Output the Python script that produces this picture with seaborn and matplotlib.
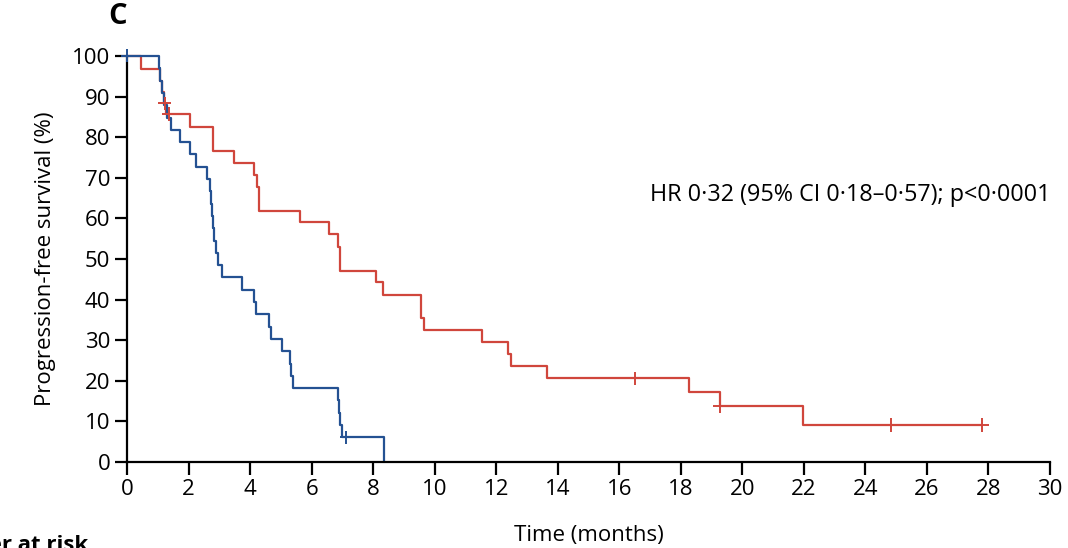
import pandas as pd
import matplotlib.pyplot as plt
import seaborn as sns

# Kaplan-Meier steps (time in months, survival in %)
blue_time = [0, 1.05, 1.08, 1.12, 1.2, 1.3, 1.43, 1.72, 2.03, 2.24, 2.59, 2.68, 2.72, 2.76,
             2.8, 2.84, 2.88, 2.97, 3.1, 3.73, 4.14, 4.2, 4.6, 4.68, 5.05, 5.3, 5.33, 5.38,
             6.85, 6.88, 6.92, 7.0, 8.35]
blue_surv = [100, 97.0, 93.9, 90.9, 87.9, 84.8, 81.8, 78.8, 75.8, 72.7, 69.7, 66.7, 63.6, 60.6,
             57.6, 54.5, 51.5, 48.5, 45.5, 42.4, 39.4, 36.4, 33.3, 30.3, 27.3, 24.2, 21.2, 18.2,
             15.2, 12.1, 9.1, 6.1, 0]
blue_cens_time = [0, 7.12]
blue_cens_surv = [100, 6.1]

red_time = [0, 0.46, 1.07, 1.12, 1.2, 1.27, 2.03, 2.78, 3.46, 4.14, 4.21, 4.3, 5.62, 6.56,
            6.87, 6.92, 8.1, 8.31, 9.55, 9.65, 11.53, 12.39, 12.47, 13.66, 18.27, 19.27,
            21.98, 27.8]
red_surv = [100, 96.7, 93.7, 91.2, 88.3, 85.7, 82.6, 76.7, 73.7, 70.7, 67.8, 61.9, 59.0, 56.2,
            53.0, 47.1, 44.2, 41.2, 35.4, 32.5, 29.5, 26.6, 23.7, 20.6, 17.2, 13.8,
            9.1, 9.1]
red_cens_time = [1.22, 1.35, 16.51, 19.27, 24.85, 27.8]
red_cens_surv = [88.3, 85.7, 20.6, 13.8, 9.1, 9.1]

x_ticks = list(range(0, 31, 2))
y_ticks = list(range(0, 101, 10))

RED = "#d0463c"
BLUE = "#245192"

curves = pd.concat([
    pd.DataFrame({"time": red_time, "surv": red_surv, "arm": "red"}),
    pd.DataFrame({"time": blue_time, "surv": blue_surv, "arm": "blue"}),
])
censored = pd.concat([
    pd.DataFrame({"time": red_cens_time, "surv": red_cens_surv, "arm": "red"}),
    pd.DataFrame({"time": blue_cens_time, "surv": blue_cens_surv, "arm": "blue"}),
])
palette = {"red": RED, "blue": BLUE}

sns.set_style("ticks")
plt.rcParams["font.family"] = ["Open Sans", "DejaVu Sans"]
plt.rcParams["text.color"] = "black"
plt.rcParams["axes.labelcolor"] = "black"

fig = plt.figure(figsize=(10.68, 5.48), dpi=100)
ax = fig.add_axes([0.119, 0.157, 0.864, 0.741])

sns.lineplot(data=curves, x="time", y="surv", hue="arm", palette=palette,
             estimator=None, sort=False, drawstyle="steps-post", linewidth=1.6,
             legend=False, ax=ax)
sns.scatterplot(data=censored, x="time", y="surv", hue="arm", palette=palette,
                marker="+", s=90, linewidth=1.4, legend=False, ax=ax, zorder=3)

ax.set_xlim(0, 30)
ax.set_ylim(0, 100)
ax.set_xticks(x_ticks)
ax.set_yticks(y_ticks)
ax.tick_params(axis="both", labelsize=16, length=9, width=1.6, direction="out", pad=3,
               colors="black")
for side in ["left", "bottom"]:
    ax.spines[side].set_linewidth(1.6)
    ax.spines[side].set_color("black")
sns.despine(ax=ax)
for art in ax.collections + ax.lines:
    art.set_clip_on(False)

ax.set_xlabel("Time (months)", fontsize=16, labelpad=18)
ax.set_ylabel("Progression-free survival (%)", fontsize=16, labelpad=12)

ax.text(17.0, 65.8, "HR 0·32 (95% CI 0·18–0·57); p<0·0001", fontsize=16.8,
        ha="left", va="center")

fig.text(118 / 1068, 1 - 16 / 548, "C", fontsize=21, fontweight="bold",
         ha="center", va="center")
fig.text(88 / 1068, 1 - 535 / 548, "Number at risk", fontsize=16, fontweight="bold",
         ha="right", va="top")

fig.savefig("out.png", dpi=100)
